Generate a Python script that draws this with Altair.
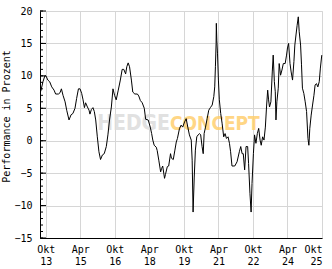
import altair as alt
import pandas as pd

years = [2013.53, 2013.63, 2013.71, 2013.76, 2013.84, 2013.92, 2014.01, 2014.11, 2014.18, 2014.30,
         2014.37, 2014.43, 2014.50, 2014.59, 2014.66, 2014.76, 2014.85, 2014.93, 2015.02, 2015.09,
         2015.17, 2015.24, 2015.31, 2015.37, 2015.43, 2015.48, 2015.56, 2015.63, 2015.67, 2015.73,
         2015.80, 2015.86, 2015.92, 2015.99, 2016.06, 2016.13, 2016.21, 2016.29, 2016.38, 2016.45,
         2016.52, 2016.60, 2016.67, 2016.74, 2016.81, 2016.90, 2016.99, 2017.07, 2017.14, 2017.22,
         2017.27, 2017.33, 2017.39, 2017.47, 2017.53, 2017.62, 2017.73, 2017.79, 2017.86, 2017.94,
         2018.03, 2018.09, 2018.20, 2018.29, 2018.35, 2018.40, 2018.46, 2018.55, 2018.59, 2018.66,
         2018.74, 2018.78, 2018.83, 2018.91, 2018.95, 2019.03, 2019.09, 2019.17, 2019.21, 2019.29,
         2019.36, 2019.42, 2019.47, 2019.56, 2019.63, 2019.70, 2019.78, 2019.85, 2019.92, 2019.99,
         2020.07, 2020.11, 2020.15, 2020.20, 2020.25, 2020.31, 2020.37, 2020.43, 2020.48, 2020.54,
         2020.59, 2020.63, 2020.69, 2020.76, 2020.83, 2020.90, 2020.98, 2021.05, 2021.09, 2021.12,
         2021.15, 2021.16, 2021.18, 2021.21, 2021.25, 2021.29, 2021.35, 2021.41, 2021.48, 2021.54,
         2021.60, 2021.67, 2021.73, 2021.78, 2021.84, 2021.96, 2022.06, 2022.16, 2022.22, 2022.28,
         2022.33, 2022.39, 2022.45, 2022.52, 2022.56, 2022.62, 2022.67, 2022.71, 2022.77, 2022.82,
         2022.88, 2022.94, 2023.00, 2023.06, 2023.11, 2023.17, 2023.23, 2023.29, 2023.34, 2023.39,
         2023.43, 2023.47, 2023.53, 2023.59, 2023.63, 2023.68, 2023.72, 2023.75, 2023.79, 2023.85,
         2023.89, 2023.95, 2024.01, 2024.07, 2024.15, 2024.21, 2024.25, 2024.30, 2024.36, 2024.41,
         2024.47, 2024.53, 2024.57, 2024.62, 2024.67, 2024.72, 2024.76, 2024.82, 2024.86, 2024.90,
         2024.96, 2025.02, 2025.08, 2025.14, 2025.18, 2025.22, 2025.28, 2025.34, 2025.40, 2025.45,
         2025.51, 2025.57, 2025.63, 2025.68, 2025.74]

performance = [7.6, 9.1, 10.0, 10.0, 9.35, 9.1, 8.3, 7.8, 7.2, 7.2,
               7.4, 8.0, 7.0, 6.0, 4.7, 3.2, 4.0, 4.2, 5.0, 6.5,
               8.0, 8.0, 7.3, 6.3, 5.1, 5.85, 5.2, 4.7, 4.1, 4.8,
               5.1, 4.5, 3.2, 0.6, -1.7, -2.9, -2.2, -2.0, -0.9, 0.9,
               3.2, 5.2, 8.0, 7.0, 6.3, 7.8, 9.35, 11.0, 11.0, 10.3,
               11.4, 12.0, 11.4, 9.35, 7.5, 7.2, 7.2, 6.9, 6.2, 5.85,
               5.0, 3.3, 3.2, 2.1, 1.1, 0.1, -0.7, -1.0, -1.5, -3.0,
               -4.8, -4.3, -3.9, -5.8, -5.2, -4.0, -3.9, -2.0, -2.7, -2.9,
               -1.45, -0.2, 0.35, 1.9, 2.4, 2.1, 2.9, 3.4, 2.1, 0.9,
               0.1, -3.0, -11.0, -5.6, -1.45, 0.6, 0.9, 1.1, 0.9, -0.9,
               -2.0, 1.1, 2.1, 3.4, 4.7, 5.1, 5.5, 6.8, 8.3, 11.4,
               15.0, 18.1, 15.5, 13.5, 9.35, 6.3, 4.2, 2.7, 0.6, 1.1,
               0.35, 0.6, -0.4, -1.7, -3.9, -3.9, -3.25, -1.7, -0.9, -2.0,
               -2.0, -4.5, -0.9, -0.9, -3.5, -8.1, -11.0, -6.6, -2.0, 0.9,
               -0.4, 1.1, 1.9, 0.1, -0.7, 0.6, 0.1, 2.1, 5.2, 7.8,
               6.3, 5.2, 6.0, 10.6, 13.2, 9.1, 7.55, 3.2, 6.0, 8.1,
               11.9, 10.1, 10.9, 11.9, 11.9, 13.2, 14.3, 15.0, 11.9, 10.6,
               9.35, 12.2, 14.75, 16.3, 17.8, 19.1, 16.8, 14.75, 11.7, 8.1,
               7.3, 6.0, 4.5, 0.35, -0.7, 1.9, 3.95, 5.5, 7.0, 8.6,
               8.8, 8.3, 9.1, 11.2, 13.2]

x_tick_values = [2013.75, 2015.25, 2016.75, 2018.25, 2019.75, 2021.25, 2022.75, 2024.25, 2025.75]
y_major_ticks = [-15, -10, -5, 0, 5, 10, 15, 20]
y_minor_ticks = list(range(-15, 21))

df = pd.DataFrame({"year": years, "perf": performance})
major_df = pd.DataFrame({"v": y_major_ticks})
minor_df = pd.DataFrame({"v": y_minor_ticks})

MONO = "DejaVu Sans Mono"
GRID = "#d6d6d6"

xscale = alt.Scale(domain=[2013.5, 2025.75], nice=False, zero=False)
yscale = alt.Scale(domain=[-15, 20], nice=False, zero=False)

line = alt.Chart(df).mark_line(color="black", strokeWidth=1).encode(
    x=alt.X("year:Q", scale=xscale,
            axis=alt.Axis(values=x_tick_values, title=None, grid=True, gridColor=GRID,
                          domainColor="black", tickSize=0, labelPadding=6,
                          labelFont=MONO, labelFontSize=10, labelColor="black",
                          labelLineHeight=12, labelAngle=0, labelOverlap=False,
                          labelExpr="[datum.value % 1 > 0.5 ? 'Okt' : 'Apr', slice('' + floor(datum.value), 2)]")),
    y=alt.Y("perf:Q", scale=yscale,
            axis=alt.Axis(values=y_major_ticks, title="Performance in Prozent", grid=True,
                          gridColor=GRID, domainColor="black", tickSize=0, labelPadding=8,
                          labelOverlap=False, labelFont=MONO, labelFontSize=10, labelColor="black",
                          titleFont=MONO, titleFontSize=10, titleFontWeight="normal",
                          titleColor="black", titlePadding=2, titleY=105)),
    order="year:Q",
)

ticks = alt.layer(
    alt.Chart(minor_df).mark_rule(color="black", strokeWidth=1).encode(
        y=alt.Y("v:Q", scale=yscale, axis=None), x=alt.value(0), x2=alt.value(3)),
    alt.Chart(major_df).mark_rule(color="black", strokeWidth=1).encode(
        y=alt.Y("v:Q", scale=yscale, axis=None), x=alt.value(0), x2=alt.value(6)),
)

wm1 = alt.Chart(pd.DataFrame({"t": ["HEDGE"]})).mark_text(
    font="DejaVu Sans Condensed", fontWeight="bold", fontSize=21, color="#dcdcdc",
    opacity=0.85, align="right", baseline="middle").encode(
    text="t:N", x=alt.value(130), y=alt.value(113))
wm2 = alt.Chart(pd.DataFrame({"t": ["CONCEPT"]})).mark_text(
    font="DejaVu Sans Condensed", fontWeight="bold", fontSize=19, color="#ffcf70",
    opacity=0.85, align="left", baseline="middle").encode(
    text="t:N", x=alt.value(130), y=alt.value(113))

chart = alt.layer(wm1, wm2, line, ticks).resolve_scale(y="independent").resolve_axis(
    y="independent").properties(
    width=282, height=227, autosize="none",
    padding={"left": 40, "top": 11, "right": 10, "bottom": 31},
).configure_view(fill="#fff6dc", stroke="transparent").configure(background="white")

chart.save("out.html", embed_options={"renderer": "svg", "actions": False})
